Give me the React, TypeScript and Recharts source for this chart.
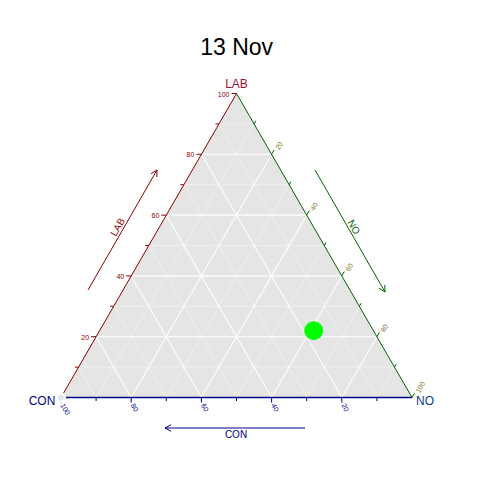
import { Area, ComposedChart, ReferenceDot, ReferenceLine, Scatter, XAxis, YAxis } from 'recharts'

// Composición del punto (%)
const conValues = [17]
const labValues = [22]
const noValues = [61]

const title = '13 Nov'
const axisNames = ['CON', 'LAB', 'NO']
const gridSteps = [10, 20, 30, 40, 50, 60, 70, 80, 90]
const tickSteps = [10, 20, 30, 40, 50, 60, 70, 80, 90, 100]
const tickLabels = [20, 40, 60, 80, 100]

// Colores
const RED = '#8B0000'
const GREEN = '#006400'
const BLUE = '#00008B'
const FONT = '"Liberation Sans", Arial, sans-serif'

// Escala: unidades del triángulo (lado = 100) a píxeles
const W = 480
const H = 480
const S = 3.51
const OX = 61
const OY = 397.5
const K = Math.sqrt(3) / 2
const X_DOMAIN = [-OX / S, (W - OX) / S]
const Y_DOMAIN = [(OY - H) / S, OY / S]

type P = { x: number; y: number }

const tern = (con: number, lab: number, no: number): P => {
  const t = con + lab + no
  return { x: (100 * (no + lab / 2)) / t, y: (100 * lab * K) / t }
}
const px = (x: number, y: number): P => ({ x: (x - OX) / S, y: (OY - y) / S })
const add = (p: P, dx: number, dy: number): P => ({ x: p.x + dx / S, y: p.y - dy / S })

const triangle = [tern(100, 0, 0), tern(0, 100, 0), tern(0, 0, 100)]
const pointData = conValues.map((c, i) => tern(c, labValues[i], noValues[i]))

const gridLines = gridSteps.flatMap((k) =>
  [
    [tern(100 - k, k, 0), tern(0, k, 100 - k)],
    [tern(100 - k, 0, k), tern(0, 100 - k, k)],
    [tern(k, 0, 100 - k), tern(k, 100 - k, 0)],
  ].map((seg) => ({ seg, major: k % 20 === 0 }))
)

// marcas: largas en múltiplos de 20, cortas en el resto
const tl = (k: number) => (k % 20 === 0 ? 5 : 3.5)
const labTicks = tickSteps.map((k) => {
  const p = tern(100 - k, k, 0)
  return [p, add(p, -tl(k), 0)]
})
const conTicks = tickSteps.map((k) => {
  const p = tern(k, 0, 100 - k)
  return [p, add(p, 0, tl(k))]
})
const noTicks = tickSteps.map((k) => {
  const p = tern(0, 100 - k, k)
  return [p, add(p, tl(k) * 0.5, -tl(k) * K)]
})

const FS = 7
const tw = (s: string) => s.length * 0.556 * FS
const labTickText = tickLabels.map((k) => {
  const s = String(k)
  return { s, p: add(tern(100 - k, k, 0), -7 - tw(s) / 2, 0.5) }
})
const conTickText = tickLabels.map((k) => {
  const s = String(k)
  return { s, p: add(tern(k, 0, 100 - k), 1.5 + (tw(s) / 2) * 0.5, 6.6 + (tw(s) / 2) * K) }
})
const noTickText = tickLabels.map((k) => {
  const s = String(k)
  return { s, p: add(tern(0, 100 - k, k), 5.5 + (tw(s) / 2) * 0.5, -5.2 - (tw(s) / 2) * K) }
})

const arrow = (x1: number, y1: number, x2: number, y2: number) => {
  const len = Math.hypot(x1 - x2, y1 - y2)
  const ux = (x1 - x2) / len
  const uy = (y1 - y2) / len
  const head = 7
  const a = (28 * Math.PI) / 180
  const barb = (s: number) =>
    px(
      x2 + head * (ux * Math.cos(s * a) - uy * Math.sin(s * a)),
      y2 + head * (ux * Math.sin(s * a) + uy * Math.cos(s * a))
    )
  const tip = px(x2, y2)
  return [
    [px(x1, y1), tip],
    [tip, barb(1)],
    [tip, barb(-1)],
  ]
}

const arrows = [
  { segs: arrow(88, 290, 157, 170), color: RED },
  { segs: arrow(315, 170, 385, 292), color: GREEN },
  { segs: arrow(305, 428, 165, 428), color: BLUE },
]

const seg = (key: string, s: P[], stroke: string, strokeWidth = 1, opacity = 1) => (
  <ReferenceLine
    key={key}
    segment={[s[0], s[1]]}
    stroke={stroke}
    strokeWidth={strokeWidth}
    strokeOpacity={opacity}
  />
)

const textDot = (key: string, p: P, value: string, fill: string, fontSize: number, angle = 0) => (
  <ReferenceDot
    key={key}
    x={p.x}
    y={p.y}
    r={0}
    fill='none'
    stroke='none'
    label={{ value, position: 'center', angle, fill, fontSize, fontFamily: FONT }}
  />
)

export default function App() {
  return (
    <div style={{ position: 'absolute', left: 0, top: 0 }}>
      <ComposedChart width={W} height={H} data={triangle} margin={{ top: 0, right: 0, bottom: 0, left: 0 }}>
        <XAxis type='number' dataKey='x' domain={X_DOMAIN} allowDataOverflow hide />
        <YAxis type='number' domain={Y_DOMAIN} allowDataOverflow hide />
        <Area
          dataKey='y'
          type='linear'
          fill='#E5E5E5'
          fillOpacity={1}
          stroke='none'
          baseValue={0}
          isAnimationActive={false}
        />
        {gridLines.map((g, i) =>
          seg(`g${i}`, g.seg, '#FFFFFF', g.major ? 1.1 : 0.7, g.major ? 1 : 0.55)
        )}
        {seg('eL', [triangle[0], triangle[1]], RED)}
        {seg('eR', [triangle[1], triangle[2]], GREEN)}
        {seg('eB', [triangle[0], triangle[2]], BLUE, 1.6)}
        {labTicks.map((t, i) => seg(`tl${i}`, t, RED))}
        {conTicks.map((t, i) => seg(`tc${i}`, t, BLUE))}
        {noTicks.map((t, i) => seg(`tn${i}`, t, GREEN))}
        {arrows.flatMap((a, i) => a.segs.map((s, j) => seg(`a${i}${j}`, s, a.color)))}
        {labTickText.map((t, i) => textDot(`ll${i}`, t.p, t.s, RED, FS))}
        {conTickText.map((t, i) => textDot(`lc${i}`, t.p, t.s, BLUE, FS, 60))}
        {noTickText.map((t, i) => textDot(`ln${i}`, t.p, t.s, '#7A7A18', FS, -60))}
        {textDot('title', px(236.7, 46.7), title, '#000000', 23)}
        {textDot('vCON', px(42, 401), axisNames[0], BLUE, 12)}
        {textDot('vLAB', px(236.5, 84), axisNames[1], '#9B1030', 12)}
        {textDot('vNO', px(425, 401), axisNames[2], '#0B3D8C', 12)}
        {textDot('aLAB', px(117.5, 227), axisNames[1], RED, 10, -60)}
        {textDot('aNO', px(354, 227), axisNames[2], GREEN, 10, 60)}
        {textDot('aCON', px(236, 434), axisNames[0], BLUE, 10)}
        <Scatter
          data={pointData}
          dataKey='y'
          fill='#00FF00'
          isAnimationActive={false}
          shape={(p: any) => <circle cx={p.cx} cy={p.cy} r={9.5} fill='#00FF00' />}
        />
      </ComposedChart>
    </div>
  )
}
